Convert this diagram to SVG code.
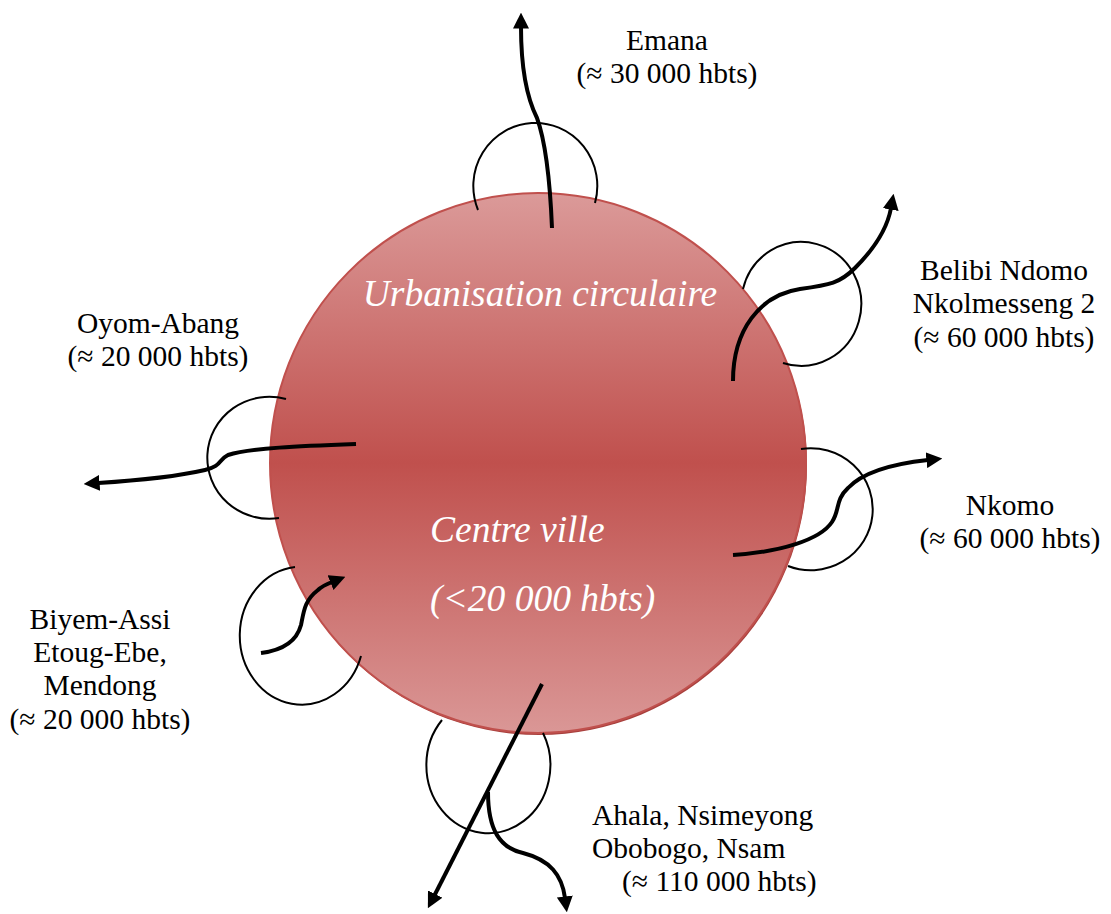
<svg xmlns="http://www.w3.org/2000/svg" width="1111" height="914" viewBox="0 0 1111 914">
<defs>
<linearGradient id="g" x1="0" y1="0" x2="0" y2="1">
<stop offset="0" stop-color="#db9a99"/>
<stop offset="0.5" stop-color="#c0504d"/>
<stop offset="1" stop-color="#da9796"/>
</linearGradient>
<marker id="ah" viewBox="0 0 10 10" refX="1" refY="5" markerWidth="4" markerHeight="4" orient="auto" markerUnits="strokeWidth">
<path d="M0,0 L10,5 L0,10 z" fill="#000"/>
</marker>
</defs>
<style>
.lbl{font-family:"Liberation Serif","Times New Roman",serif;font-size:29.5px;fill:#000}
.in{font-family:"Liberation Serif","Times New Roman",serif;font-style:italic;font-size:37.5px;fill:#fff}
.arc{fill:none;stroke:#000;stroke-width:2}
.flow{fill:none;stroke:#000;stroke-width:4}
</style>
<rect width="1111" height="914" fill="#fff"/>
<g id="centre">
<ellipse cx="539" cy="465" rx="268" ry="270" fill="#a8403d"/>
<ellipse cx="538" cy="463" rx="268" ry="270" fill="url(#g)" stroke="#c0504d" stroke-width="2"/>
<text class="in" x="540" y="306" text-anchor="middle">Urbanisation circulaire</text>
<text class="in" x="430" y="542">Centre ville</text>
<text class="in" x="430" y="611">(&lt;20 000 hbts)</text>
</g>
<g id="emana">
<text class="lbl" x="667" y="50" text-anchor="middle">Emana</text>
<text class="lbl" x="667" y="83" text-anchor="middle">(≈ 30 000 hbts)</text>
</g>
<g id="belibi">
<text class="lbl" x="1004" y="280" text-anchor="middle">Belibi Ndomo</text>
<text class="lbl" x="1004" y="313" text-anchor="middle">Nkolmesseng 2</text>
<text class="lbl" x="1004" y="347" text-anchor="middle">(≈ 60 000 hbts)</text>
</g>
<g id="nkomo">
<text class="lbl" x="1010" y="515" text-anchor="middle">Nkomo</text>
<text class="lbl" x="1010" y="548" text-anchor="middle">(≈ 60 000 hbts)</text>
</g>
<g id="oyom">
<text class="lbl" x="158" y="333" text-anchor="middle">Oyom-Abang</text>
<text class="lbl" x="158" y="366" text-anchor="middle">(≈ 20 000 hbts)</text>
</g>
<g id="biyem">
<text class="lbl" x="100" y="629" text-anchor="middle">Biyem-Assi</text>
<text class="lbl" x="100" y="662" text-anchor="middle">Etoug-Ebe,</text>
<text class="lbl" x="100" y="695" text-anchor="middle">Mendong</text>
<text class="lbl" x="100" y="729" text-anchor="middle">(≈ 20 000 hbts)</text>
</g>
<g id="ahala">
<text class="lbl" x="592" y="825">Ahala, Nsimeyong</text>
<text class="lbl" x="592" y="858">Obobogo, Nsam</text>
<text class="lbl" x="622" y="891">(≈ 110 000 hbts)</text>
</g>
<g id="connectors">
<path class="arc" d="M478,210 A62,63 0 1 1 595,203"/>
<path class="arc" d="M743,289 A60,62 0 1 1 783,363"/>
<path class="arc" d="M286,399 A62,61 0 1 0 279,518"/>
<path class="arc" d="M801,449 A62,61 0 1 1 788,566"/>
<path class="arc" d="M295,567 A62,69 0 1 0 361,656"/>
<path class="arc" d="M442,720 A62,68 0 1 0 543,733"/>
<path class="flow" marker-end="url(#ah)" d="M552,228 C550,180 545,140 537,118 C528,100 521,70 521,27"/>
<path class="flow" marker-end="url(#ah)" d="M733,381 C733,330 760,295 800,289 C830,285 840,283 855,268 C873,250 887,230 891,208"/>
<path class="flow" marker-end="url(#ah)" d="M356,444 C300,446 250,448 228,455 C218,460 222,466 205,470 C170,478 130,481 98,483"/>
<path class="flow" marker-end="url(#ah)" d="M733,555 C780,552 820,540 832,522 C840,510 835,500 848,488 C865,470 900,463 928,460"/>
<path class="flow" marker-end="url(#ah)" d="M261,653 C285,650 297,640 301,625 C304,610 305,600 318,590 C322,586 327,584 332,582"/>
<path class="flow" marker-end="url(#ah)" d="M542,684 L434.4,895.5"/>
<path class="flow" marker-end="url(#ah)" d="M488,792 C488,830 500,848 523,853 C550,860 562,875 565,898"/>
</g>
</svg>
